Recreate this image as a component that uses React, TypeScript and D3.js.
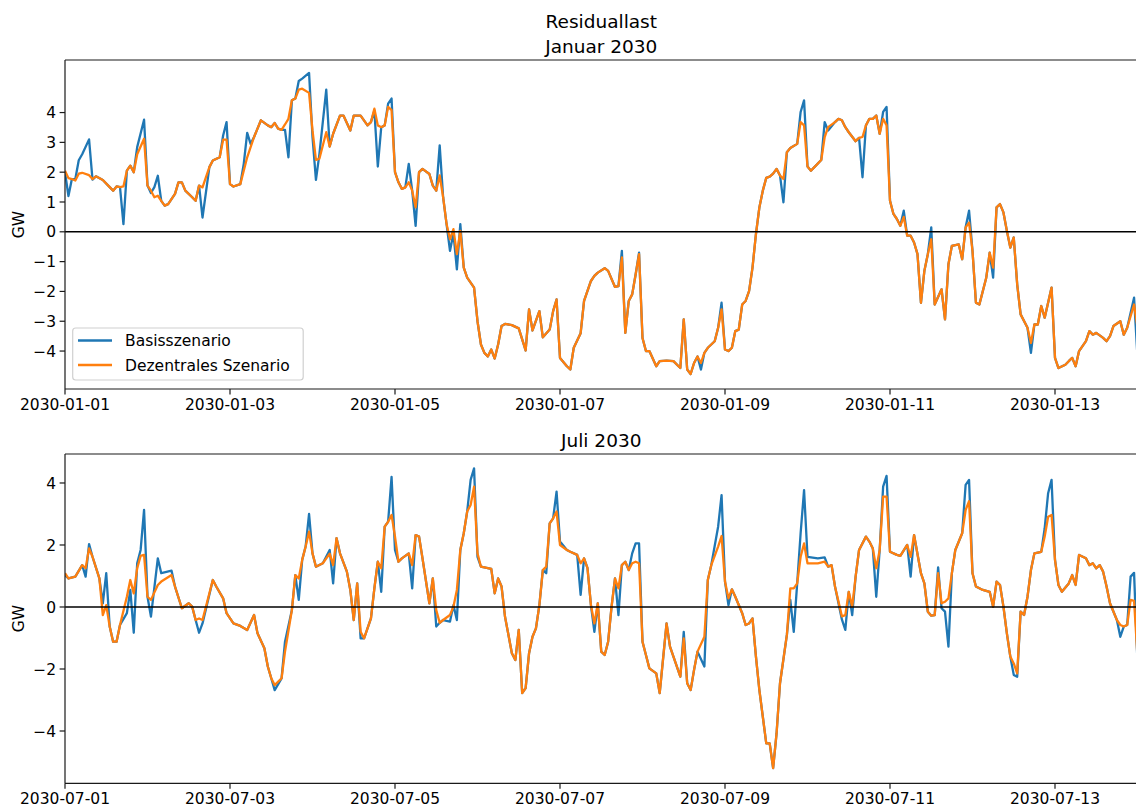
import React from "react";
import * as d3 from "d3";

// ---------------- DATA (hours since start, GW) ----------------
const JAN_HOURS = [
  0, 1, 2, 3, 4, 5, 7, 8, 9, 11,
  13, 14, 15, 16, 17, 18, 19, 20, 21, 23,
  24, 25, 26, 27, 28, 29, 30, 32, 33, 34,
  35, 37, 38, 39, 40, 42, 43, 45, 46, 47,
  48, 49, 51, 52, 53, 54, 55, 56, 57, 59,
  60, 61, 62, 63, 64, 65, 66, 67, 68, 69,
  71, 72, 73, 74, 76, 77, 78, 80, 81, 83,
  84, 86, 88, 89, 90, 91, 92, 93, 94, 95,
  96, 97, 98, 99, 100, 101, 102, 103, 104, 106,
  107, 108, 109, 110, 111, 112, 113, 114, 115, 116,
  117, 119, 120, 121, 122, 123, 124, 125, 126, 127,
  128, 130, 132, 134, 135, 136, 138, 139, 141, 142,
  143, 144, 146, 147, 148, 150, 151, 153, 154, 155,
  157, 158, 160, 161, 162, 163, 164, 165, 166, 167,
  168, 169, 170, 172, 173, 175, 177, 179, 180, 181,
  182, 183, 184, 185, 186, 187, 189, 190, 191, 192,
  193, 194, 195, 196, 197, 198, 199, 200, 201, 202,
  203, 204, 205, 206, 207, 208, 209, 210, 211, 213,
  214, 215, 216, 217, 218, 220, 221, 222, 224, 225,
  226, 227, 228, 230, 231, 232, 233, 234, 235, 236,
  237, 238, 239, 240, 241, 242, 243, 244, 245, 246,
  247, 248, 249, 250, 251, 252, 253, 255, 256, 257,
  258, 260, 261, 262, 263, 264, 265, 266, 268, 269,
  270, 271, 272, 273, 274, 275, 276, 277, 278, 280,
  281, 282, 283, 284, 285, 287, 288, 289, 291, 292,
  293, 294, 295, 297, 298, 299, 300, 302, 303, 304,
  305, 307, 308, 309, 311, 312,
];
const JAN_BASIS = [
  2.0, 1.2, 1.77, 1.77, 2.4, 2.6, 3.1, 1.75, 1.86, 1.74,
  1.5, 1.38, 1.52, 1.5, 0.26, 2.05, 2.22, 2.0, 2.84, 3.76,
  1.55, 1.3, 1.5, 1.88, 1.04, 0.88, 0.93, 1.27, 1.66, 1.66,
  1.38, 1.16, 1.04, 1.55, 0.48, 2.17, 2.39, 2.5, 3.23, 3.68,
  1.6, 1.52, 1.6, 2.28, 3.32, 2.95, 3.18, 3.46, 3.74, 3.57,
  3.51, 3.65, 3.46, 3.42, 3.42, 2.5, 4.41, 4.47, 5.06, 5.14,
  5.33, 3.18, 1.74, 2.6, 4.77, 2.86, 3.29, 3.9, 3.9, 3.4,
  3.9, 3.9, 3.57, 3.68, 4.07, 2.19, 3.51, 3.57, 4.3, 4.47,
  2.0, 1.66, 1.44, 1.49, 2.28, 1.38, 0.2, 2.0, 2.11, 1.94,
  1.55, 1.38, 2.9, 1.16, 0.26, -0.64, -0.05, -1.26, 0.26, -1.2,
  -1.54, -1.87, -3.0, -3.78, -4.06, -4.18, -3.95, -4.25, -3.78, -3.16,
  -3.09, -3.13, -3.24, -3.98, -2.6, -3.31, -2.66, -3.54, -3.28, -2.66,
  -2.27, -4.23, -4.51, -4.62, -3.89, -3.4, -2.32, -1.65, -1.48, -1.37,
  -1.22, -1.31, -1.85, -1.82, -0.64, -3.39, -2.32, -2.1, -1.43, -0.7,
  -3.56, -4.0, -4.0, -4.51, -4.34, -4.32, -4.34, -4.57, -2.94, -4.62,
  -4.77, -4.4, -4.18, -4.62, -4.06, -3.89, -3.67, -3.22, -2.38, -3.95,
  -4.0, -3.89, -3.33, -3.28, -2.44, -2.32, -1.99, -1.2, -0.08, 0.82,
  1.38, 1.81, 1.85, 1.95, 2.11, 1.89, 0.99, 2.67, 2.81, 2.95,
  4.02, 4.41, 2.19, 2.05, 2.17, 2.41, 3.68, 3.4, 3.68, 3.79,
  3.74, 3.51, 3.34, 3.04, 3.15, 1.83, 3.57, 3.79, 3.79, 3.9,
  3.29, 4.02, 4.19, 1.04, 0.6, 0.43, 0.2, 0.71, -0.13, -0.13,
  -0.36, -0.75, -2.38, -1.31, -0.75, 0.15, -2.44, -1.93, -2.94, -1.09,
  -0.47, -0.42, -0.92, 0.15, 0.71, -0.64, -2.38, -2.44, -1.54, -0.7,
  -1.54, 0.82, 0.93, 0.65, 0.03, -0.53, -0.19, -1.76, -2.77, -3.22,
  -4.06, -3.11, -3.11, -2.49, -2.88, -1.87, -4.23, -4.57, -4.46, -4.34,
  -4.23, -4.51, -4.0, -3.67, -3.33, -3.45, -3.39, -3.56, -3.67, -3.5,
  -3.16, -3.0, -3.45, -3.22, -2.21, -4.2,
];
const JAN_DEZENTRAL = [
  2.05, 1.8, 1.77, 1.72, 1.95, 1.98, 1.9, 1.77, 1.86, 1.74,
  1.5, 1.38, 1.52, 1.5, 1.52, 2.05, 2.22, 2.0, 2.6, 3.12,
  1.55, 1.38, 1.16, 1.21, 1.04, 0.88, 0.93, 1.27, 1.66, 1.66,
  1.38, 1.16, 1.04, 1.55, 1.49, 2.17, 2.39, 2.5, 3.09, 3.09,
  1.6, 1.52, 1.6, 2.05, 2.5, 2.84, 3.18, 3.46, 3.74, 3.57,
  3.51, 3.65, 3.46, 3.42, 3.6, 3.79, 4.41, 4.47, 4.77, 4.8,
  4.66, 3.4, 2.41, 2.45, 3.34, 2.86, 3.29, 3.9, 3.9, 3.4,
  3.9, 3.9, 3.57, 3.68, 4.13, 3.57, 3.51, 3.57, 4.19, 4.08,
  2.0, 1.66, 1.44, 1.49, 1.66, 1.38, 0.82, 2.0, 2.11, 1.94,
  1.55, 1.38, 1.89, 1.16, 0.26, -0.25, 0.09, -0.75, 0.03, -1.2,
  -1.54, -1.87, -3.0, -3.78, -4.06, -4.18, -3.95, -4.25, -3.78, -3.16,
  -3.09, -3.13, -3.24, -3.98, -2.6, -3.31, -2.66, -3.54, -3.28, -2.66,
  -2.27, -4.23, -4.51, -4.62, -3.89, -3.4, -2.32, -1.65, -1.48, -1.37,
  -1.22, -1.31, -1.85, -1.82, -0.86, -3.39, -2.32, -2.1, -1.43, -0.75,
  -3.56, -4.0, -4.0, -4.51, -4.34, -4.32, -4.34, -4.57, -2.94, -4.62,
  -4.77, -4.4, -4.18, -4.4, -4.06, -3.89, -3.67, -3.22, -2.6, -3.95,
  -4.0, -3.89, -3.33, -3.28, -2.44, -2.32, -1.99, -1.2, -0.08, 0.82,
  1.38, 1.81, 1.85, 1.95, 2.11, 1.89, 1.77, 2.67, 2.81, 2.95,
  3.68, 3.57, 2.19, 2.05, 2.17, 2.41, 3.18, 3.51, 3.68, 3.79,
  3.74, 3.51, 3.34, 3.04, 3.15, 3.18, 3.57, 3.79, 3.79, 3.9,
  3.29, 3.79, 3.57, 1.04, 0.6, 0.43, 0.2, 0.5, -0.13, -0.13,
  -0.36, -0.75, -2.38, -1.31, -0.75, -0.25, -2.44, -1.93, -2.94, -1.09,
  -0.47, -0.42, -0.92, 0.15, 0.31, -0.64, -2.38, -2.44, -1.54, -0.7,
  -1.2, 0.82, 0.93, 0.65, 0.03, -0.53, -0.19, -1.76, -2.77, -3.22,
  -3.73, -3.11, -3.11, -2.49, -2.88, -1.87, -4.23, -4.57, -4.46, -4.34,
  -4.23, -4.51, -4.0, -3.67, -3.33, -3.45, -3.39, -3.56, -3.67, -3.5,
  -3.16, -3.0, -3.45, -3.22, -2.44, -3.2,
];

const JUL_HOURS = [
  0, 1, 3, 5, 6, 7, 8, 10, 11, 12,
  13, 14, 15, 16, 18, 19, 20, 21, 22, 23,
  24, 25, 27, 28, 31, 32, 34, 36, 37, 38,
  39, 40, 43, 44, 46, 47, 49, 51, 53, 55,
  56, 58, 59, 60, 61, 63, 64, 66, 67, 68,
  69, 70, 71, 72, 73, 75, 77, 78, 79, 80,
  82, 83, 84, 85, 86, 87, 89, 90, 91, 92,
  93, 94, 95, 96, 97, 98, 100, 101, 102, 103,
  104, 106, 107, 108, 109, 110, 112, 113, 114, 115,
  116, 117, 118, 119, 120, 121, 124, 125, 126, 127,
  128, 130, 131, 132, 133, 134, 135, 136, 137, 138,
  139, 140, 141, 142, 143, 144, 146, 147, 149, 150,
  151, 152, 153, 154, 155, 156, 157, 158, 159, 160,
  161, 162, 163, 164, 165, 166, 167, 168, 169, 170,
  172, 173, 175, 176, 178, 179, 180, 181, 182, 183,
  184, 186, 187, 188, 190, 191, 192, 193, 194, 195,
  197, 198, 199, 200, 201, 202, 203, 204, 205, 206,
  207, 208, 210, 211, 212, 213, 214, 215, 216, 219,
  221, 222, 223, 224, 226, 227, 228, 229, 230, 231,
  233, 234, 235, 236, 237, 238, 239, 240, 242, 243,
  245, 246, 247, 249, 250, 251, 252, 253, 254, 255,
  256, 257, 258, 259, 261, 262, 263, 264, 265, 267,
  269, 270, 271, 272, 273, 274, 275, 276, 277, 278,
  279, 280, 281, 282, 284, 285, 286, 287, 288, 289,
  290, 292, 293, 294, 295, 297, 298, 299, 300, 301,
  302, 303, 304, 306, 307, 308, 309, 310, 311, 312,
];
const JUL_BASIS = [
  1.03, 0.92, 0.98, 1.35, 0.98, 2.03, 1.62, 0.92, 0.12, 1.09,
  -0.63, -1.12, -1.12, -0.58, -0.2, 0.55, -0.83, 1.41, 1.84, 3.13,
  0.33, -0.31, 1.57, 1.09, 1.17, 0.66, -0.04, 0.12, 0.01, -0.42,
  -0.83, -0.53, 0.87, 0.66, 0.28, -0.2, -0.53, -0.61, -0.74, -0.26,
  -0.85, -1.33, -1.92, -2.3, -2.68, -2.3, -1.12, -0.1, 1.03, 0.23,
  1.52, 1.95, 3.0, 1.73, 1.3, 1.41, 1.84, 0.76, 2.22, 1.73,
  1.14, 0.55, -0.42, 0.76, -1.01, -1.01, -0.37, 0.6, 1.46, 0.49,
  2.59, 2.75, 4.2, 1.84, 1.46, 1.57, 1.73, 0.6, 2.32, 2.27,
  1.57, 0.12, 0.92, -0.63, -0.51, -0.42, -0.47, 0.06, -0.42, 1.84,
  2.38, 3.08, 4.1, 4.47, 1.62, 1.3, 1.23, 0.44, 0.92, 0.66,
  -0.31, -1.49, -1.71, -0.74, -2.78, -2.62, -1.49, -0.96, -0.69, 0.06,
  1.19, 1.09, 2.7, 2.86, 3.72, 2.11, 1.84, 1.78, 1.68, 0.39,
  1.57, 1.25, 0.06, -0.8, 0.12, -1.44, -1.55, -1.12, 0.01, 0.92,
  -0.26, 1.35, 1.46, 1.19, 1.73, 2.05, 2.05, -1.12, -1.55, -1.98,
  -2.14, -2.78, -0.53, -1.28, -1.92, -2.25, -0.8, -2.46, -2.68, -2.03,
  -1.44, -1.92, 0.87, 1.35, 2.59, 3.61, 0.82, 0.06, 0.57, 0.33,
  -0.2, -0.58, -0.53, -0.37, -1.6, -2.68, -3.54, -4.4, -4.4, -5.2,
  -4.08, -2.46, -0.9, 0.23, -0.8, 0.76, 2.38, 3.77, 1.62, 1.57,
  1.6, 1.3, 1.35, 0.66, -0.4, -0.74, 0.49, -0.26, 0.98, 1.84,
  2.27, 2.11, 1.89, 0.33, 1.84, 3.88, 4.23, 1.78, 1.68, 1.65,
  2.0, 0.98, 2.32, 1.09, 0.76, -0.15, -0.28, -0.26, 1.28, -0.04,
  -0.15, -1.28, 1.09, 1.84, 2.38, 3.94, 4.1, 1.09, 0.66, 0.55,
  0.49, 0.01, 0.82, 0.71, 0.01, -0.85, -1.6, -2.19, -2.25, -0.15,
  -0.26, 0.33, 1.19, 1.73, 1.78, 2.54, 3.67, 4.1, 1.52, 0.71,
  0.49, 0.76, 1.03, 0.71, 1.68, 1.57, 1.35, 1.41, 1.25, 1.35,
  1.14, 0.66, 0.12, -0.42, -0.96, -0.63, -0.58, 0.98, 1.1, -1.8,
];
const JUL_DEZENTRAL = [
  1.09, 0.92, 0.98, 1.35, 1.25, 1.89, 1.62, 0.92, -0.26, 0.06,
  -0.63, -1.12, -1.12, -0.58, 0.33, 0.87, 0.44, 1.25, 1.65, 1.68,
  0.33, 0.23, 0.71, 0.82, 1.03, 0.66, -0.04, 0.12, 0.01, -0.42,
  -0.37, -0.42, 0.87, 0.66, 0.28, -0.2, -0.53, -0.61, -0.74, -0.26,
  -0.85, -1.33, -1.92, -2.3, -2.52, -2.3, -1.44, -0.1, 1.03, 0.92,
  1.52, 1.95, 2.43, 1.73, 1.3, 1.41, 1.72, 1.35, 2.22, 1.73,
  1.14, 0.55, -0.42, 0.76, -0.8, -1.01, -0.37, 0.6, 1.46, 1.25,
  2.59, 2.75, 2.97, 2.27, 1.46, 1.57, 1.73, 1.35, 2.32, 2.27,
  1.57, 0.12, 0.92, -0.1, -0.51, -0.42, -0.26, 0.01, 0.55, 1.84,
  2.38, 3.08, 3.29, 3.88, 1.73, 1.3, 1.23, 0.44, 0.92, 0.66,
  -0.31, -1.49, -1.71, -0.74, -2.78, -2.62, -1.49, -0.96, -0.69, 0.06,
  1.19, 1.3, 2.7, 2.86, 3.08, 2.0, 1.84, 1.78, 1.68, 1.41,
  1.57, 1.25, 0.06, -0.53, 0.12, -1.44, -1.55, -1.12, 0.01, 0.92,
  0.6, 1.35, 1.46, 1.19, 1.41, 1.46, 1.41, -1.12, -1.55, -1.98,
  -2.14, -2.78, -0.53, -1.28, -1.92, -2.25, -1.01, -2.46, -2.68, -2.03,
  -1.44, -0.96, 0.87, 1.35, 1.95, 2.29, 0.82, 0.28, 0.57, 0.33,
  -0.2, -0.58, -0.53, -0.37, -1.6, -2.68, -3.54, -4.4, -4.4, -5.2,
  -4.08, -2.46, -0.9, 0.6, 0.6, 0.76, 1.62, 2.05, 1.41, 1.41,
  1.46, 1.3, 1.35, 0.66, -0.3, -0.26, 0.49, 0.01, 0.98, 1.84,
  2.27, 2.11, 1.89, 1.25, 1.84, 3.56, 3.56, 1.78, 1.68, 1.65,
  2.0, 1.62, 2.32, 1.09, 0.76, -0.15, -0.28, -0.26, 1.09, 0.12,
  0.17, 0.28, 1.09, 1.84, 2.38, 3.13, 3.41, 1.09, 0.66, 0.55,
  0.49, 0.01, 0.82, 0.71, 0.01, -0.85, -1.6, -1.82, -2.14, -0.15,
  -0.26, 0.33, 1.19, 1.73, 1.78, 2.27, 2.91, 2.97, 1.52, 0.71,
  0.49, 0.76, 1.03, 0.71, 1.68, 1.57, 1.35, 1.41, 1.25, 1.35,
  1.14, 0.66, 0.12, -0.42, -0.58, -0.63, -0.58, 0.23, 0.2, -1.6,
];

const SERIES_NAMES = ["Basisszenario", "Dezentrales Szenario"];
const SERIES_COLORS = ["#1f77b4", "#ff7f0e"];
const JAN_Y_TICKS = [-4, -3, -2, -1, 0, 1, 2, 3, 4];
const JUL_Y_TICKS = [-4, -2, 0, 2, 4];
const MAIN_TITLE = "Residuallast";
const JAN_TITLE = "Januar 2030";
const JUL_TITLE = "Juli 2030";
const Y_LABEL = "GW";

// ---------------- LAYOUT ----------------
const W = 1136;
const H = 807;
const FONT = "DejaVu Sans, Verdana, sans-serif";
const X_LEFT = 65;
const X_RIGHT = 1137.5;
const TICK_FS = 15.5;
const TITLE_FS = 18.5;

type PanelProps = {
  id: string;
  start: number;
  hours: number[];
  basis: number[];
  dez: number[];
  top: number;
  bottom: number;
  yTop: number;
  yBottom: number;
  yTicks: number[];
  showLegend: boolean;
};

const fmtNum = (v: number) => (v < 0 ? "\u2212" + Math.abs(v) : String(v));

function Panel(p: PanelProps) {
  const x = d3
    .scaleUtc()
    .domain([new Date(p.start), new Date(p.start + 13 * 86400000)])
    .range([X_LEFT, X_RIGHT]);
  const y = d3.scaleLinear().domain([p.yBottom, p.yTop]).range([p.bottom, p.top]);
  const n = Math.min(p.hours.length, p.basis.length, p.dez.length);
  const idx = d3.range(n);
  const toDate = (h: number) => new Date(p.start + h * 3600000);
  const mkLine = (vals: number[]) =>
    d3
      .line<number>()
      .x((i) => x(toDate(p.hours[i])))
      .y((i) => y(vals[i]))(idx) || "";
  const xTicks = d3.utcDay.every(2)!.range(new Date(p.start), new Date(p.start + 13 * 86400000 + 1));
  const fmt = d3.utcFormat("%Y-%m-%d");
  const clipId = "clip-" + p.id;
  const spine = "#1a1a1a";
  return (
    <g>
      <defs>
        <clipPath id={clipId}>
          <rect x={X_LEFT} y={p.top} width={X_RIGHT - X_LEFT} height={p.bottom - p.top} />
        </clipPath>
      </defs>
      <g clipPath={`url(#${clipId})`}>
        <path d={mkLine(p.basis)} fill="none" stroke={SERIES_COLORS[0]} strokeWidth={2.3} strokeLinejoin="round" />
        <path d={mkLine(p.dez)} fill="none" stroke={SERIES_COLORS[1]} strokeWidth={2.3} strokeLinejoin="round" />
        <line x1={X_LEFT} x2={X_RIGHT} y1={y(0)} y2={y(0)} stroke="#000" strokeWidth={1.5} />
      </g>
      {/* spines */}
      <line x1={X_LEFT} x2={X_LEFT} y1={p.top} y2={p.bottom} stroke={spine} strokeWidth={1.2} />
      <line x1={X_LEFT} x2={X_RIGHT} y1={p.bottom} y2={p.bottom} stroke={spine} strokeWidth={1.2} />
      <line x1={X_LEFT} x2={X_RIGHT} y1={p.top} y2={p.top} stroke={spine} strokeWidth={1.2} />
      <line x1={X_RIGHT} x2={X_RIGHT} y1={p.top} y2={p.bottom} stroke={spine} strokeWidth={1.2} />
      {/* y ticks */}
      {p.yTicks.map((t) => (
        <g key={"y" + t}>
          <line x1={X_LEFT - 5.4} x2={X_LEFT} y1={y(t)} y2={y(t)} stroke={spine} strokeWidth={1.2} />
          <text x={X_LEFT - 9} y={y(t)} dy="0.36em" textAnchor="end" fontSize={TICK_FS} fontFamily={FONT} fill="#000">
            {fmtNum(t)}
          </text>
        </g>
      ))}
      {/* x ticks */}
      {xTicks.map((d) => (
        <g key={"x" + d.getTime()}>
          <line x1={x(d)} x2={x(d)} y1={p.bottom} y2={p.bottom + 5.4} stroke={spine} strokeWidth={1.2} />
          <text x={x(d)} y={p.bottom + 21} textAnchor="middle" fontSize={TICK_FS} fontFamily={FONT} fill="#000">
            {fmt(d)}
          </text>
        </g>
      ))}
      {/* y label */}
      <text
        transform={`translate(24, ${(p.top + p.bottom) / 2}) rotate(-90)`}
        textAnchor="middle"
        fontSize={TICK_FS}
        fontFamily={FONT}
        fill="#000"
      >
        {Y_LABEL}
      </text>
      {p.showLegend && (
        <g>
          <rect x={72.7} y={328} width={230.5} height={52} rx={3} fill="#fff" fillOpacity={0.8} stroke="#d0d0d0" strokeWidth={1.2} />
          {SERIES_NAMES.map((name, i) => (
            <g key={name}>
              <line x1={78} x2={112} y1={340.5 + i * 24.5} y2={340.5 + i * 24.5} stroke={SERIES_COLORS[i]} strokeWidth={2.3} />
              <text x={125} y={340.5 + i * 24.5} dy="0.36em" fontSize={TICK_FS} fontFamily={FONT} fill="#000">
                {name}
              </text>
            </g>
          ))}
        </g>
      )}
    </g>
  );
}

export default function App() {
  const janStart = Date.UTC(2030, 0, 1);
  const julStart = Date.UTC(2030, 6, 1);
  const cx = (X_LEFT + X_RIGHT) / 2;
  return (
    <svg
      width={W}
      height={H}
      viewBox={`0 0 ${W} ${H}`}
      style={{ position: "absolute", left: 0, top: 0, background: "#fff" }}
    >
      <rect x={0} y={0} width={W} height={H} fill="#fff" />
      <text x={cx} y={28.3} textAnchor="middle" fontSize={TITLE_FS} fontFamily={FONT} fill="#000">
        {MAIN_TITLE}
      </text>
      <text x={cx} y={53.3} textAnchor="middle" fontSize={TITLE_FS} fontFamily={FONT} fill="#000">
        {JAN_TITLE}
      </text>
      <Panel
        id="jan"
        start={janStart}
        hours={JAN_HOURS}
        basis={JAN_BASIS}
        dez={JAN_DEZENTRAL}
        top={60}
        bottom={389}
        yTop={5.763}
        yBottom={-5.273}
        yTicks={JAN_Y_TICKS}
        showLegend={true}
      />
      <text x={cx} y={447.3} textAnchor="middle" fontSize={TITLE_FS} fontFamily={FONT} fill="#000">
        {JUL_TITLE}
      </text>
      <Panel
        id="jul"
        start={julStart}
        hours={JUL_HOURS}
        basis={JUL_BASIS}
        dez={JUL_DEZENTRAL}
        top={454}
        bottom={783.3}
        yTop={4.935}
        yBottom={-5.687}
        yTicks={JUL_Y_TICKS}
        showLegend={false}
      />
    </svg>
  );
}
